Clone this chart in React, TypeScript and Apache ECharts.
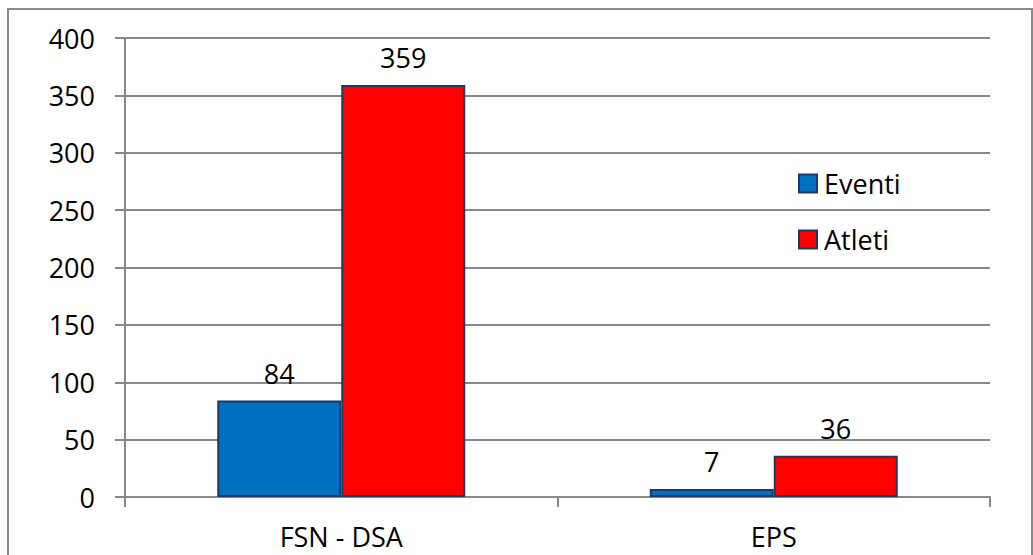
import React, { useEffect, useRef } from "react";
import * as echarts from "echarts";

const categories = ["FSN - DSA", "EPS"];
const eventi = [84, 7];
const atleti = [359, 36];
const seriesNames = ["Eventi", "Atleti"];

const FONT = "'Open Sans', 'Noto Sans', sans-serif";
const GRAY = "#888888";

export default function App() {
  const ref = useRef<HTMLDivElement>(null);
  useEffect(() => {
    if (!ref.current) return;
    const chart = echarts.init(ref.current, undefined, { renderer: "svg" });
    const label = {
      show: true,
      position: "top" as const,
      distance: 14,
      color: "#000",
      fontFamily: FONT,
      fontSize: 27,
    };
    chart.setOption({
      animation: false,
      backgroundColor: "#fff",
      textStyle: { fontFamily: FONT },
      graphic: [
        {
          type: "rect",
          shape: { x: 8, y: 9, width: 1024, height: 560 },
          style: { fill: "none", stroke: GRAY, lineWidth: 2 },
          silent: true,
        },
      ],
      grid: { left: 125, top: 38, right: 43, bottom: 58, containLabel: false },
      legend: {
        orient: "vertical",
        left: 793,
        top: 165,
        itemWidth: 18,
        itemHeight: 18,
        itemGap: 29,
        icon: "rect",
        textStyle: { fontFamily: FONT, fontSize: 27, color: "#000", padding: [0, 0, 0, 2] },
        data: seriesNames,
      },
      xAxis: {
        type: "category",
        data: categories,
        axisLine: { show: true, lineStyle: { color: GRAY, width: 2 } },
        axisTick: { show: true, length: 10, lineStyle: { color: GRAY, width: 2 } },
        axisLabel: { color: "#000", fontFamily: FONT, fontSize: 27, margin: 26 },
      },
      yAxis: {
        type: "value",
        min: 0,
        max: 400,
        interval: 50,
        axisLine: { show: true, lineStyle: { color: GRAY, width: 2 } },
        axisTick: { show: true, length: 10, lineStyle: { color: GRAY, width: 2 } },
        splitLine: { show: true, lineStyle: { color: GRAY, width: 2 } },
        axisLabel: { color: "#000", fontFamily: FONT, fontSize: 27, margin: 30 },
      },
      series: [
        {
          name: seriesNames[0],
          type: "bar",
          data: eventi,
          barWidth: 124,
          barGap: "0%",
          itemStyle: { color: "#0070C0", borderColor: "#1F3864", borderWidth: 2 },
          label,
        },
        {
          name: seriesNames[1],
          type: "bar",
          data: atleti,
          barWidth: 124,
          barGap: "0%",
          itemStyle: { color: "#FF0000", borderColor: "#1F3864", borderWidth: 2 },
          label,
        },
      ],
    });
    return () => chart.dispose();
  }, []);
  return (
    <div
      ref={ref}
      style={{ position: "absolute", left: 0, top: 0, width: 1033, height: 555 }}
    />
  );
}
